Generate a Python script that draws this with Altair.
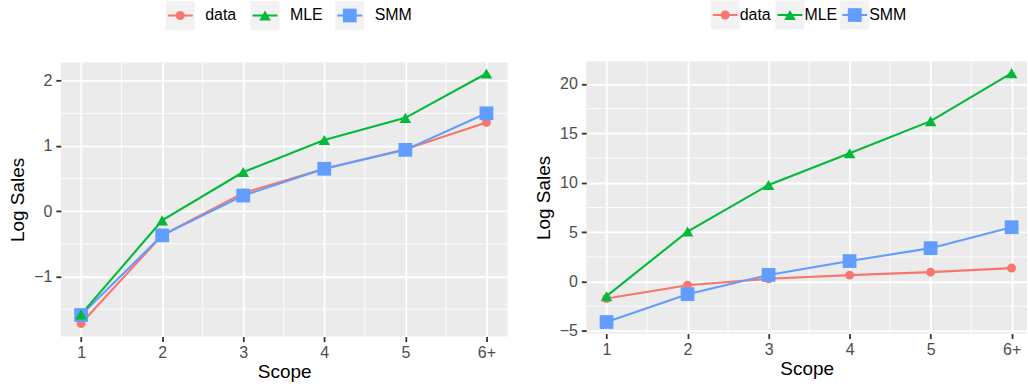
import altair as alt
import pandas as pd

# ---- data ----
series_names = ["data", "MLE", "SMM"]
series_colors = ["#F8766D", "#00BA38", "#619CFF"]
series_shapes = ["circle", "triangle-up", "square"]
series_sizes = [81, 190, 100]
draw_order = ["data", "SMM", "MLE"]

scope = [1, 2, 3, 4, 5, 6]
scope_labels = ["1", "2", "3", "4", "5", "6+"]
x_minor = [1.5, 2.5, 3.5, 4.5, 5.5]

left_data = [-1.72, -0.37, 0.28, 0.65, 0.95, 1.36]
left_mle = [-1.58, -0.14, 0.60, 1.09, 1.43, 2.11]
left_smm = [-1.59, -0.37, 0.24, 0.65, 0.94, 1.50]

right_data = [-1.72, -0.37, 0.28, 0.65, 0.95, 1.36]
right_mle = [-1.48, 5.06, 9.77, 12.99, 16.24, 21.10]
right_smm = [-4.10, -1.28, 0.67, 2.07, 3.38, 5.50]

left_y_ticks = [-1, 0, 1, 2]
left_y_minor = [-1.5, -0.5, 0.5, 1.5]
right_y_ticks = [-5, 0, 5, 10, 15, 20]
right_y_minor = [-2.5, 2.5, 7.5, 12.5, 17.5]

FONT = "Liberation Sans"

color_scale = alt.Scale(domain=series_names, range=series_colors)
shape_scale = alt.Scale(domain=series_names, range=series_shapes)
size_scale = alt.Scale(domain=series_names, range=series_sizes)

label_expr = str(scope_labels) + "[datum.value - 1]"


def panel(values, y_domain, y_ticks, y_minor, x_domain, width, height):
    rows = []
    for name in draw_order:
        for s, v in zip(scope, values[name]):
            rows.append({"scope": s, "value": v, "series": name})
    df = pd.DataFrame(rows)

    x_enc = alt.X(
        "scope:Q",
        scale=alt.Scale(domain=x_domain, nice=False, zero=False),
        axis=alt.Axis(values=scope, labelExpr=label_expr, title="Scope"),
    )
    y_enc = alt.Y(
        "value:Q",
        scale=alt.Scale(domain=y_domain, nice=False, zero=False),
        axis=alt.Axis(values=y_ticks, title="Log Sales"),
    )

    vminor = alt.Chart(pd.DataFrame({"scope": x_minor})).mark_rule(
        color="white", strokeWidth=0.9
    ).encode(x=x_enc)
    hminor = alt.Chart(pd.DataFrame({"value": y_minor})).mark_rule(
        color="white", strokeWidth=0.9
    ).encode(y=y_enc)

    base = alt.Chart(df).encode(x=x_enc, y=y_enc)
    lines = base.mark_line(strokeWidth=2.1).encode(
        color=alt.Color("series:N", scale=color_scale, legend=None),
        detail="series:N",
    )
    pts = base.mark_point(filled=True, opacity=1).encode(
        color=alt.Color("series:N", scale=color_scale, legend=None),
        shape=alt.Shape("series:N", scale=shape_scale, legend=None),
        size=alt.Size("series:N", scale=size_scale, legend=None),
    )
    return alt.layer(vminor, hminor, lines, pts).properties(
        width=width, height=height,
        view=alt.ViewBackground(fill="#EBEBEB", stroke=None),
    )


def legend(domain, width, height, dx):
    ldf = pd.DataFrame({"slot": [0, 1, 2], "series": series_names})
    base = alt.Chart(ldf).encode(
        x=alt.X("slot:Q", scale=alt.Scale(domain=domain, nice=False, zero=False), axis=None)
    )
    key = base.mark_point(shape="square", size=841, filled=True, color="#F2F2F2", opacity=1)
    seg = base.mark_point(shape="M-1,0L1,0", size=625, filled=False, strokeWidth=2, opacity=1).encode(
        color=alt.Color("series:N", scale=color_scale, legend=None)
    )
    pts = base.mark_point(filled=True, opacity=1).encode(
        color=alt.Color("series:N", scale=color_scale, legend=None),
        shape=alt.Shape("series:N", scale=shape_scale, legend=None),
        size=alt.Size("series:N", scale=size_scale, legend=None),
    )
    txt = base.mark_text(align="left", baseline="middle", dx=dx, fontSize=16, font=FONT, color="black").encode(
        text="series:N"
    )
    return alt.layer(key, seg, pts, txt).properties(
        width=width, height=height,
        view=alt.ViewBackground(fill=None, stroke=None),
    )


left_vals = {"data": left_data, "MLE": left_mle, "SMM": left_smm}
right_vals = {"data": right_data, "MLE": right_mle, "SMM": right_smm}

left_plot = panel(left_vals, [-1.92, 2.28], left_y_ticks, left_y_minor, [0.75, 6.26], 448, 275)
right_plot = panel(right_vals, [-5.27, 22.29], right_y_ticks, right_y_minor, [0.75, 6.19], 442, 273)

left_leg = legend([-1.409, 3.861], 448, 30, 25)
right_leg = legend([-2.145, 4.66], 442, 29, 14.5)

left = alt.vconcat(left_leg, left_plot, spacing=31)
right = alt.vconcat(right_leg, right_plot, spacing=31)

chart = alt.hconcat(left, right, spacing=25).properties(
    padding={"left": 8, "top": 0, "right": 0, "bottom": 0}
).configure(font=FONT).configure_view(stroke=None).configure_axis(
    labelFont=FONT, labelFontSize=16, labelColor="#4D4D4D",
    tickColor="#333333", tickSize=5, tickWidth=1.8,
    domain=False, gridColor="white", gridWidth=1.8,
    titleFont=FONT, titleFontSize=19, titleColor="black", titleFontWeight="normal",
).configure_axisX(labelPadding=3, titlePadding=2).configure_axisY(labelPadding=4, titlePadding=6)

chart.save("out.html", embed_options={"renderer": "svg", "actions": False})
